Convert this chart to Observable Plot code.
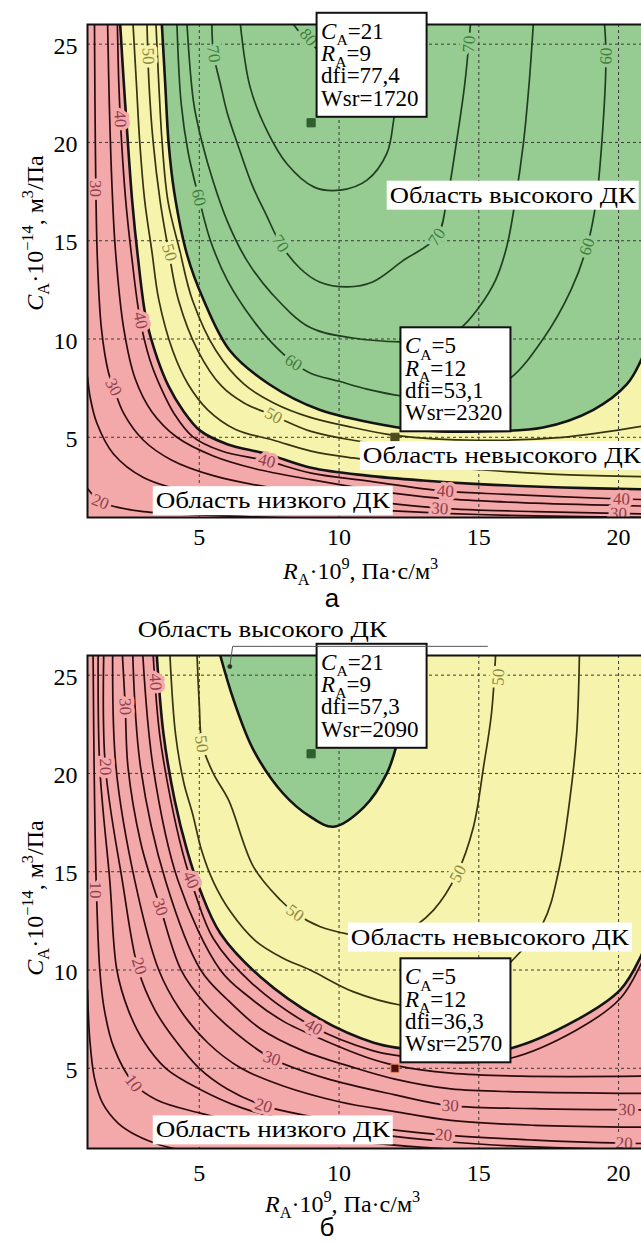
<!DOCTYPE html>
<html><head><meta charset="utf-8">
<script src="https://cdn.jsdelivr.net/npm/d3@7"></script>
<script src="https://cdn.jsdelivr.net/npm/@observablehq/plot@0.6"></script>
<style>
html,body{margin:0;padding:0;background:#fff;}
#root{position:relative;width:641px;height:1242px;overflow:hidden;background:#fff;font-family:"Liberation Serif","Liberation Sans",sans-serif;}
#root > svg{position:absolute;left:0;}
#root svg text{font-family:"Liberation Serif","Liberation Sans",sans-serif;}
#root svg text.sans{font-family:"Liberation Sans",sans-serif;}
</style></head><body><div id="root"></div>
<script>
// ---------- axes ----------
const X_DOMAIN = [1, 21];
const Y_DOMAIN = [0.92, 26];
const X_TICKS = [5, 10, 15, 20];
const Y_TICKS = [5, 10, 15, 20, 25];

// ---------- panel а : contour polylines [R, C] ----------
const A_T1 = [[2.17,26],[2.3,23],[2.42,20.5],[2.6,17],[2.8,14.2],[3.1,11],[3.5,9],[3.9,7.6],[4.4,6.4],[5.03,5.34],[6,4.65],[7.42,4.15],[9,3.45],[11,3.05],[13,2.8],[15,2.62],[18,2.45],[21,2.35]];
const A_T2 = [[3.66,26],[3.78,23],[3.9,20],[4.1,17.5],[4.56,14.3],[5.15,12],[6.1,9.4],[7.5,7.7],[9.3,6.4],[11.7,5.6],[13,5.35],[15,5.3],[17.3,5.5],[19.1,6.4],[20.3,7.7],[20.8,8.9],[21.1,10]];
const A_R20 = [[1.0,2.4],[1.46,1.72],[2.05,1.45],[3,1.22],[5,1.05],[7,0.95],[9,0.88]];
const A_R25 = [[1.0,8.06],[1.1,7],[1.34,5.7],[1.93,4.15],[3.0,2.96],[5.03,2.1],[8,1.6],[11,1.32],[14,1.12],[17,1.0],[21,0.93]];
const A_R30 = [[1.25,26],[1.28,20],[1.35,14.2],[1.5,10.5],[1.75,8.3],[1.93,7.55],[2.3,6.2],[3.0,4.85],[4.0,3.85],[5.5,3.05],[7.5,2.45],[10,1.95],[13.6,1.4],[17,1.22],[21,1.1]];
const A_R35 = [[1.72,26],[1.78,22],[1.87,18],[2.0,14.5],[2.3,10.5],[2.7,8],[3.3,6.3],[4.2,5.0],[5.5,4.05],[7,3.4],[9,2.85],[12,2.15],[14,1.85],[17,1.65],[21,1.5]];
const A_R40 = [[2.07,26],[2.12,23],[2.2,20.5],[2.37,17],[2.58,14.2],[2.88,11],[3.22,9],[3.6,7.6],[4.1,6.2],[4.75,5.05],[5.8,4.3],[7.42,3.8],[9,3.18],[11,2.78],[13.8,2.26],[16,2.1],[20.1,1.86],[21,1.83]];
const A_Y1 = [[2.63,26],[2.75,23],[2.87,20],[3.05,17],[3.3,14.5],[3.55,12],[4.05,9.4],[4.6,7.7],[5.3,6.4],[6.3,5.4],[7.66,4.85],[9,4.3],[10.5,3.95],[12,3.7],[15,3.35],[18,3.1],[21,3.0]];
const A_Y2 = [[3.13,26],[3.2,23],[3.35,20],[3.6,17],[3.9,14.5],[4.25,12],[4.95,9.4],[5.8,7.6],[6.6,6.75],[7.66,6.1],[9,5.3],[10.5,4.85],[12,4.55],[15,4.25],[18,4.2],[21,4.35]];
const A_Y3 = [[3.45,26],[3.55,23],[3.67,20],[3.88,17],[4.3,14.5],[4.75,12],[5.6,9.4],[6.6,7.7],[7.66,6.75],[9,6.0],[10.5,5.5],[12,5.1],[15,4.85],[18,5.0],[21,5.6]];
const A_G60 = [[4.2,26],[4.35,22],[4.6,19.5],[4.98,17.2],[5.4,15],[6.0,13],[6.9,11],[7.6,9.8],[8.37,8.8],[9,8.25],[10,7.85],[11,7.45],[12.25,7.1],[13.5,6.95],[14.8,7.2],[16.1,7.98],[17.3,10],[18.3,12.5],[18.87,14.7],[19.2,17],[19.45,21],[19.55,24.4],[19.5,26]];
const A_G65 = [[4.56,26],[4.8,22],[5.1,20],[5.5,18],[6.0,16],[6.7,14],[7.6,12.3],[8.97,10.58],[10.5,10.05],[12.25,9.85],[13.3,9.9],[14.3,10.5],[15.0,11.6],[15.6,13],[16.0,14.7],[16.3,17],[16.6,20],[16.8,23],[16.95,26]];
const A_G70 = [[5.45,26],[5.51,24.5],[5.75,23],[6.0,21.5],[6.35,20],[6.9,17.8],[7.4,16.3],[7.9,14.86],[8.6,13.6],[9.3,12.9],[10.3,12.65],[11.2,12.9],[12.3,14.0],[13.5,15.2],[13.85,17],[14.2,20],[14.5,23],[14.7,26]];
const A_G75 = [[6.47,26],[6.82,22.8],[7.42,20.6],[8.14,18.9],[9.09,17.74],[10.04,17.57],[11.0,18.08],[11.71,19.44],[11.95,21.1],[12.1,23],[12.2,26]];
const A_G80 = [[8.37,26],[8.85,25.2],[9.6,24.4],[10.5,24.1],[11.3,24.5],[11.8,26]];

// ---------- panel б ----------
const B_T1 = [[3.48,26],[3.72,22],[4.12,18.64],[4.56,16.1],[5.03,14.07],[5.75,11.87],[7.18,9.66],[9.33,7.5],[11.24,6.3],[12.19,6.02],[14,5.75],[16.1,6.0],[18.5,7.46],[20.06,8.99],[20.8,10.7],[21.2,12.2]];
const B_T2 = [[5.75,26],[6.23,23.73],[6.94,21.19],[8.0,18.98],[8.97,17.8],[9.8,17.29],[10.9,18.3],[11.71,20.0],[12.07,21.5],[12.35,23.5],[12.55,26]];
const B_R0 = [[1.0,9.0],[1.08,6.5],[1.25,4.5],[1.55,3.2],[2.1,2.2],[2.8,1.55],[3.6,1.1],[4.3,0.85]];
const B_R1 = [[1.2,26],[1.24,20],[1.31,14.5],[1.44,10],[1.6,8],[1.93,6.1],[2.65,4.24],[3.48,3.39],[5.03,2.72],[7,2.05],[9,1.55],[11,1.22],[13,0.98],[15,0.8]];
const B_R2 = [[1.38,26],[1.44,20.3],[1.8,14.5],[2.05,10],[2.45,8],[3.0,6.4],[3.8,5.0],[5,3.95],[6.5,3.0],[8.5,2.25],[11,1.7],[14,1.25],[17,1.0],[21,0.85]];
const B_R3 = [[1.58,26],[1.64,20.34],[2.25,14.5],[2.82,10],[3.4,8],[4.1,6.5],[5.0,5.0],[6.0,3.95],[7.3,3.1],[9,2.55],[11,2.05],[13.74,1.61],[17,1.35],[20.2,1.19],[21,1.17]];
const B_R4 = [[1.9,26],[2.02,20.3],[2.7,14.5],[3.55,10],[4.3,8],[5.3,6.3],[6.5,5.0],[8,4.1],[10,3.3],[12,2.8],[14,2.35],[17,2.1],[21,2.0]];
const B_R5 = [[2.25,26],[2.35,23.4],[2.45,20.3],[2.9,16.5],[3.3,14.5],[3.6,13.2],[4.35,10],[5.2,8.3],[6.3,6.8],[7.6,5.5],[9.5,4.5],[12,3.65],[13.98,3.1],[17,2.95],[20.3,2.89],[21,2.88]];
const B_R6 = [[2.62,26],[2.9,20.3],[3.8,14.5],[5.05,10],[6.0,8.5],[7.2,7.0],[8.7,5.9],[10.5,5.05],[12,4.45],[14,3.95],[16.5,3.8],[21,3.72]];
const B_R7 = [[2.98,26],[3.35,20.3],[4.25,14.5],[5.75,10],[6.8,8.6],[8.0,7.4],[9.5,6.4],[11,5.55],[12,5.15],[14,4.75],[16.5,4.6],[21,4.6]];
const B_R8 = [[3.35,26],[3.58,22],[3.98,18.64],[4.4,16.0],[4.85,13.9],[5.5,11.6],[6.9,9.3],[9.09,7.1],[11.2,5.9],[12.2,5.62],[14,5.3],[16.1,5.5],[18.5,6.95],[20.06,8.55],[20.8,10.3],[21.2,11.7]];
const B_Y1 = [[3.95,26],[4.15,22],[4.45,19.5],[4.75,18.0],[5.1,16],[5.5,14.5],[6.1,13],[7.0,11.5],[8.0,10.6],[8.97,10.0],[10.5,8.9],[12.19,8.22],[13.5,8.1],[14.8,8.6],[16.1,10.34],[17.3,12.4],[17.85,15],[18.25,18.6],[18.5,22],[18.6,26]];
const B_Y2 = [[4.92,26],[5.0,23.5],[5.1,21.5],[5.5,20],[6.05,18.64],[6.94,15.25],[7.9,13.56],[8.43,12.9],[9.33,12.2],[10.4,11.8],[11.3,11.6],[12.3,11.9],[13.38,13.05],[14.22,14.9],[14.81,17.29],[15.17,20.34],[15.45,23],[15.6,26]];

// ---------- contour labels: [text, R, C, angle, region] ----------
const A_LABELS = [
  ["20",1.46,1.72,22,"red"],["30",1.29,17.66,90,"red"],["30",1.93,7.55,62,"red"],
  ["40",2.17,21.2,87,"red"],["40",2.9,10.95,78,"red"],["40",7.42,3.8,14,"red"],
  ["40",13.8,2.26,4,"red"],["30",13.6,1.38,3,"red"],["40",20.1,1.86,2,"red"],["30",20.0,1.12,2,"red"],
  ["50",3.17,24.4,88,"yellow"],["50",3.93,14.4,74,"yellow"],["50",7.66,6.1,28,"yellow"],
  ["60",4.98,17.2,77,"green"],["60",8.37,8.8,32,"green"],["60",18.87,14.7,-72,"green"],["60",19.55,24.4,-88,"green"],
  ["70",5.51,24.5,82,"green"],["70",7.9,14.86,57,"green"],["70",13.5,15.2,-55,"green"],["70",14.65,25.0,-86,"green"],
  ["80",8.9,25.35,50,"green"]
];
const B_LABELS = [
  ["10",1.3,14.07,90,"red"],["10",2.65,4.24,52,"red"],
  ["20",1.64,20.34,88,"red"],["20",2.85,10.2,72,"red"],["20",7.3,3.1,17,"red"],["20",13.74,1.61,4,"red"],["20",20.2,1.19,2,"red"],
  ["30",2.35,23.4,88,"red"],["30",3.6,13.2,70,"red"],["30",7.6,5.5,20,"red"],["30",13.98,3.1,3,"red"],["30",20.3,2.89,1,"red"],
  ["40",3.43,24.66,87,"red"],["40",4.7,14.58,65,"red"],["40",9.09,7.1,30,"red"],
  ["50",5.08,21.5,82,"yellow"],["50",8.43,12.9,35,"yellow"],["50",14.25,14.9,-62,"yellow"],["50",15.7,24.9,-86,"yellow"]
];

// ---------- marked points and their readouts ----------
const A_POINTS = [[9,21],[12,5]];
const B_POINTS = [[9,21],[12,5]];
const A_INFO = [{C:"21",R:"9",dfi:"77,4",Wsr:"1720"},{C:"5",R:"12",dfi:"53,1",Wsr:"2320"}];
const B_INFO = [{C:"21",R:"9",dfi:"57,3",Wsr:"2090"},{C:"5",R:"12",dfi:"36,3",Wsr:"2570"}];

// region captions: text, R at text start, C at baseline
const A_REGIONS = [["Область высокого ДК",11.83,16.91],["Область невысокого ДК",10.87,3.66],["Область низкого ДК",3.46,1.37]];
const B_REGIONS = [["Область невысокого ДК",10.44,11.27],["Область низкого ДК",3.46,1.46]];

// ---------- styles ----------
const SERIF = "'Liberation Serif', 'Liberation Sans', sans-serif";
const FILL = {red:"#f3a8a9", yellow:"#f6f3ac", green:"#96cc91"};
const LINE = {red:"#2c0b0e", yellow:"#36340f", green:"#1f401f", thick:"#141414"};
const LABC = {red:"#904050", yellow:"#8d8a3c", green:"#3f7e3f"};
const REGION_W = {"Область высокого ДК":246, "Область невысокого ДК":278, "Область низкого ДК":234};

const rows = (lines) => lines.flatMap(([id, region, pts]) => pts.map(([x, y]) => ({id, region, x, y})));
const pts = (a) => a.map(([x, y]) => ({x, y}));
const labs = (a) => a.map(([text, x, y, rot, region]) => ({text, x, y, rot, region}));

function makePanel(p) {
  const plot = Plot.plot({
    width: 646, height: p.height,
    marginLeft: 87, marginRight: 0, marginTop: p.mt, marginBottom: p.mb,
    style: {fontFamily: SERIF, fontSize: "24px", color: "#000", background: "transparent", maxWidth: "none", overflow: "visible"},
    x: {domain: X_DOMAIN, ticks: X_TICKS, tickSize: 0, tickPadding: p.xpad, label: null, tickFormat: d => String(d)},
    y: {domain: Y_DOMAIN, ticks: Y_TICKS, tickSize: 0, tickPadding: 10, label: null, tickFormat: d => String(d)},
    marks: [
      Plot.frame({fill: FILL.red}),
      Plot.area(pts(p.lower), {x1: "x", y1: "y", y2: Y_DOMAIN[1], fill: FILL.yellow, curve: "catmull-rom", clip: true}),
      Plot.area(pts(p.upper), {x1: "x", y1: "y", y2: Y_DOMAIN[1], fill: FILL.green, curve: "catmull-rom", clip: true}),
      Plot.ruleX(X_TICKS, {stroke: "#3a3a3a", strokeWidth: 1, strokeDasharray: "3,3"}),
      Plot.ruleY(Y_TICKS, {stroke: "#3a3a3a", strokeWidth: 1, strokeDasharray: "3,3"}),
      Plot.line(rows(p.thin), {x: "x", y: "y", z: "id", stroke: d => LINE[d.region], strokeWidth: 1.7, curve: "catmull-rom", clip: true}),
      Plot.line(rows([["t1","thick",p.lower],["t2","thick",p.upper]]), {x: "x", y: "y", z: "id", stroke: LINE.thick, strokeWidth: 2.6, curve: "catmull-rom", clip: true}),
      Plot.text(labs(p.labels), {x: "x", y: "y", text: "text", rotate: "rot", fill: d => LABC[d.region], stroke: d => FILL[d.region], strokeWidth: 7, strokeLinejoin: "round", paintOrder: "stroke", fontSize: 17, fontFamily: SERIF, clip: true}),
      Plot.dot(p.points.map(([x, y], i) => ({x, y, i})), {x: "x", y: "y", symbol: "square", r: 4.6, fill: (d) => p.dotFill[d.i], stroke: (d) => p.dotEdge[d.i], strokeWidth: 1}),
      Plot.frame({stroke: "#111", strokeWidth: 2})
    ]
  });
  plot.querySelectorAll('g[aria-label="text"] text').forEach(t => t.setAttribute("paint-order", "stroke"));
  plot.querySelectorAll('g[aria-label^="y-axis"]').forEach(g => g.setAttribute("transform", (g.getAttribute("transform") || "") + " translate(0,2)"));
  return plot;
}

const root = document.getElementById("root");
const panelA = makePanel({
  height: 560, mt: 24, mb: 43, xpad: 10,
  lower: A_T1, upper: A_T2,
  thin: [["r20","red",A_R20],["r25","red",A_R25],["r30","red",A_R30],["r35","red",A_R35],["r40","red",A_R40],
         ["y1","yellow",A_Y1],["y2","yellow",A_Y2],["y3","yellow",A_Y3],
         ["g60","green",A_G60],["g65","green",A_G65],["g70","green",A_G70],["g75","green",A_G75],["g80","green",A_G80]],
  labels: A_LABELS, points: A_POINTS, dotFill: ["#2f5e2f","#4e4b1d"], dotEdge: ["#2f5e2f","#4e4b1d"]
});
panelA.style.top = "0px";
root.appendChild(panelA);
const B_TOP = 610;
const panelB = makePanel({
  height: 580, mt: 45, mb: 42, xpad: 15,
  lower: B_T1, upper: B_T2,
  thin: [["r0","red",B_R0],["r1","red",B_R1],["r2","red",B_R2],["r3","red",B_R3],["r4","red",B_R4],["r5","red",B_R5],["r6","red",B_R6],["r7","red",B_R7],["r8","red",B_R8],
         ["y1","yellow",B_Y1],["y2","yellow",B_Y2]],
  labels: B_LABELS, points: B_POINTS, dotFill: ["#2f5e2f","#4a0f10"], dotEdge: ["#2f5e2f","#e0885a"]
});
panelB.style.top = B_TOP + "px";
root.appendChild(panelB);

// ---------- annotation overlay ----------
const ov = d3.select(root).append("svg").attr("width", 641).attr("height", 1242)
  .style("position", "absolute").style("left", "0px").style("top", "0px");

// one <text> per block; lines = arrays of parts; each line starts at x with its own baseline offset
function rich(g, x, y, lines, size, baselines) {
  const t = g.append("text").attr("x", x).attr("y", y).style("font-family", SERIF).attr("font-size", size).attr("fill", "#000");
  lines.forEach((parts, k) => {
    let shift = 0;
    parts.forEach((p, j) => {
      const target = p.sub ? size * 0.27 : p.sup ? -size * 0.4 : 0;
      const ts = t.append("tspan").text(p.t);
      if (j === 0) ts.attr("x", x).attr("y", y + baselines[k] + target);
      else ts.attr("dy", target - shift);
      shift = target;
      if (p.it) ts.attr("font-style", "italic");
      if (p.sub || p.sup) ts.attr("font-size", size * 0.68);
    });
  });
  return t;
}

function annotate(plot, top, points, info, regions) {
  const sx = plot.scale("x"), sy = plot.scale("y");
  const X = v => sx.apply(v), Y = v => sy.apply(v) + top;
  regions.forEach(([text, x, y]) => {
    const w = REGION_W[text];
    ov.append("rect").attr("x", X(x) - 3).attr("y", Y(y) - 22).attr("width", w + 6).attr("height", 29).attr("fill", "#fff");
    ov.append("text").attr("x", X(x)).attr("y", Y(y)).style("font-family", SERIF).attr("font-size", 24)
      .attr("textLength", w).attr("lengthAdjust", "spacingAndGlyphs").attr("fill", "#000").text(text);
  });
  points.forEach(([x, y], i) => {
    const bx = X(x) + 6, by = Y(y) - 5.5 - 104;
    const g = ov.append("g");
    g.append("rect").attr("x", bx).attr("y", by).attr("width", 110).attr("height", 104)
      .attr("fill", "#fff").attr("stroke", "#111").attr("stroke-width", 2);
    const d = info[i];
    const lines = [
      [{t: "C", it: 1}, {t: "A", sub: 1}, {t: "=" + d.C}],
      [{t: "R", it: 1}, {t: "A", sub: 1}, {t: "=" + d.R}],
      [{t: "dfi=" + d.dfi}],
      [{t: "Wsr=" + d.Wsr}]
    ];
    rich(g, bx + 4.5, by, lines, 23, [26, 48.5, 70.5, 93]);
  });
}
annotate(panelA, 0, A_POINTS, A_INFO, A_REGIONS);
annotate(panelB, B_TOP, B_POINTS, B_INFO, B_REGIONS);

// leader caption above panel б
{
  const sx = panelB.scale("x"), sy = panelB.scale("y");
  const X = v => sx.apply(v), Y = v => sy.apply(v) + B_TOP;
  ov.append("text").attr("x", X(2.82)).attr("y", Y(26.9)).style("font-family", SERIF).attr("font-size", 24)
    .attr("textLength", 249).attr("lengthAdjust", "spacingAndGlyphs").text("Область высокого ДК");
  ov.append("line").attr("x1", X(6.21)).attr("x2", X(15.34)).attr("y1", Y(26.44)).attr("y2", Y(26.44)).attr("stroke", "#555").attr("stroke-width", 1);
  ov.append("line").attr("x1", X(6.21)).attr("y1", Y(26.44)).attr("x2", X(6.11)).attr("y2", Y(25.41)).attr("stroke", "#555").attr("stroke-width", 1);
  ov.append("circle").attr("cx", X(6.11)).attr("cy", Y(25.41)).attr("r", 2.4).attr("fill", "#1d3a1d");
}

// axis titles and panel letters
const xTitle = [[{t: "R", it: 1}, {t: "A", sub: 1}, {t: "·10"}, {t: "9", sup: 1}, {t: ", Па·с/м"}, {t: "3", sup: 1}]];
const yTitle = [[{t: "C", it: 1}, {t: "A", sub: 1}, {t: "·10"}, {t: "−14", sup: 1}, {t: ", м"}, {t: "3", sup: 1}, {t: "/Па"}]];
rich(ov, 283, 579, xTitle, 24, [0]);
rich(ov, 265, 1212, xTitle, 24, [0]);
[[233], [898]].forEach(([cy]) => {
  const g = ov.append("g").attr("transform", `translate(43,${cy}) rotate(-90)`);
  rich(g, 0, 0, yTitle, 24, [0]).attr("text-anchor", "middle");
});
ov.append("text").attr("class", "sans").attr("x", 332).attr("y", 607).attr("text-anchor", "middle").attr("font-size", 26).text("а");
ov.append("text").attr("class", "sans").attr("x", 327).attr("y", 1236).attr("text-anchor", "middle").attr("font-size", 26).text("б");
</script></body></html>
